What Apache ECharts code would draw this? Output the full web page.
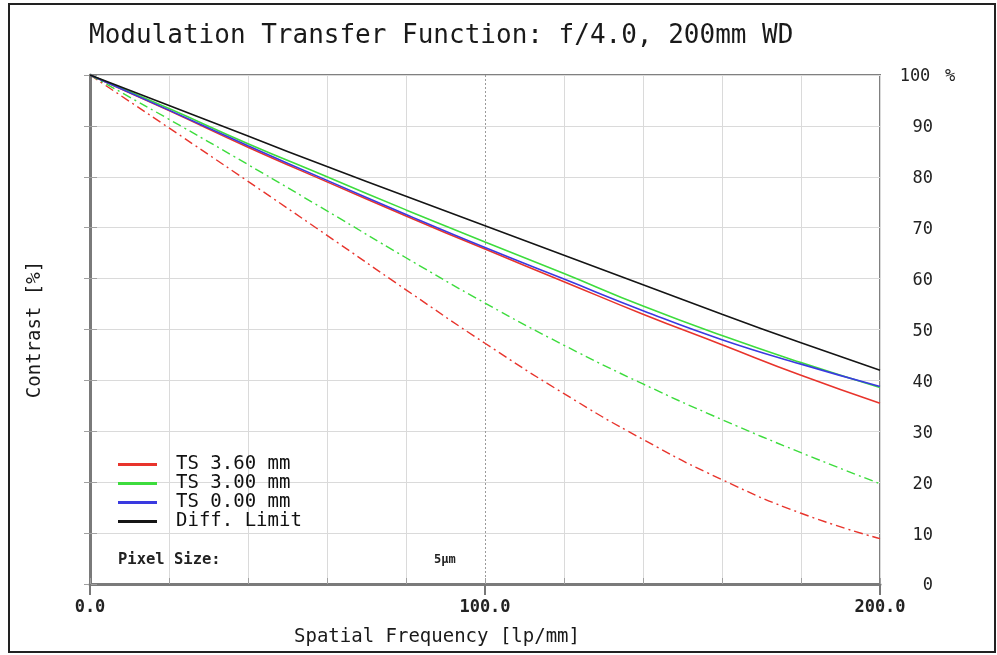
<!DOCTYPE html>
<html>
<head>
<meta charset="utf-8">
<script src="https://cdn.jsdelivr.net/npm/echarts@6/dist/echarts.min.js"></script>
<style>html,body{margin:0;padding:0;background:#fff}#c{width:997px;height:655px}</style>
</head>
<body>
<div id="c"></div>
<script>
const freq = [0, 20, 40, 60, 80, 100, 120, 140, 160, 180, 200];
const ts360Solid = [100, 93.0, 85.8, 79.0, 72.3, 65.8, 59.4, 53.0, 47.0, 41.0, 35.5];
const ts360Dash  = [100, 89.6, 79.1, 68.5, 57.8, 47.3, 37.4, 28.4, 20.5, 13.9, 8.9];
const ts300Solid = [100, 93.4, 86.5, 80.0, 73.5, 67.2, 61.0, 54.6, 48.8, 43.5, 38.6];
const ts300Dash  = [100, 91.3, 82.4, 73.3, 64.1, 55.2, 46.9, 39.3, 32.3, 25.8, 19.7];
const ts000      = [100, 93.1, 86.1, 79.3, 72.6, 66.1, 59.9, 53.7, 48.0, 43.2, 38.8];
const diffLimit  = [100, 94.0, 88.0, 82.0, 76.2, 70.4, 64.6, 58.8, 53.0, 47.4, 42.0];
const xTickLabels = ['0.0', '100.0', '200.0'];
const yTickLabels = [0, 10, 20, 30, 40, 50, 60, 70, 80, 90, 100];

const pairs = arr => freq.map((f, i) => [f, arr[i]]);
const FONT = 'DejaVu Sans Mono';
const RED = '#e8342c', GREEN = '#3ddc3d', BLUE = '#3a3ae0', BLACK = '#151515';
const dashDot = [9, 4, 2, 4];

const chart = echarts.init(document.getElementById('c'));
const splitColors = freq.map(f => f === 100 ? 'rgba(0,0,0,0)' : '#dadada');

chart.setOption({
  animation: false,
  backgroundColor: '#fff',
  title: {
    text: 'Modulation Transfer Function: f/4.0, 200mm WD',
    left: 84, top: 18,
    textStyle: {fontFamily: FONT, fontSize: 26, fontWeight: 'normal', color: '#1a1a1a'}
  },
  graphic: [
    {type: 'rect', shape: {x: 9, y: 4, width: 986, height: 648}, style: {fill: 'none', stroke: '#222', lineWidth: 2}, silent: true, z: 100},
    {type: 'text', left: 118, top: 552, style: {text: 'Pixel Size:', font: 'bold 15.5px "DejaVu Sans Mono"', fill: '#222'}},
    {type: 'text', left: 434, top: 554, style: {text: '5µm', font: 'bold 12px "DejaVu Sans Mono"', fill: '#222'}}
  ],
  legend: {
    orient: 'vertical', left: 113, top: 450, itemGap: 0,
    itemWidth: 39, itemHeight: 3, icon: 'rect',
    textStyle: {fontFamily: FONT, fontSize: 19, color: '#111', padding: [0, 0, 0, 14]},
    data: ['TS 3.60 mm', 'TS 3.00 mm', 'TS 0.00 mm', 'Diff. Limit']
  },
  grid: {left: 90, right: 117, top: 75, bottom: 71, show: true, borderColor: '#808080', borderWidth: 2},
  xAxis: [
    {
      type: 'value', min: 0, max: 200, interval: 20, position: 'bottom',
      axisLine: {show: true, lineStyle: {color: '#7a7a7a', width: 3}},
      axisTick: {show: true, inside: true, length: 6, lineStyle: {color: '#a0a0a0'}},
      axisLabel: {show: false},
      splitLine: {show: true, lineStyle: {color: splitColors, width: 1}}
    },
    {
      type: 'value', min: 0, max: 200, interval: 100, position: 'bottom',
      axisLine: {show: false},
      axisTick: {show: true, inside: false, length: 11, lineStyle: {color: '#777', width: 2}},
      axisLabel: {
        margin: 15, fontFamily: FONT, fontSize: 17, fontWeight: 'bold', color: '#222',
        formatter: v => xTickLabels[Math.round(v / 100)]
      },
      splitLine: {show: true, lineStyle: {color: ['rgba(0,0,0,0)', '#9a9a9a', 'rgba(0,0,0,0)'], type: [2, 2], width: 1}},
      name: 'Spatial Frequency [lp/mm]', nameLocation: 'middle', nameGap: 44,
      nameTextStyle: {fontFamily: FONT, fontSize: 19, color: '#1a1a1a', padding: [0, 96, 0, 0]}
    }
  ],
  yAxis: [
    {
      type: 'value', min: 0, max: 100, interval: 10, position: 'left',
      axisLine: {show: true, lineStyle: {color: '#7a7a7a', width: 3}},
      axisTick: {show: true, inside: true, length: 7, lineStyle: {color: '#a0a0a0'}},
      axisLabel: {show: false},
      splitLine: {show: true, lineStyle: {color: '#dadada', width: 1}},
      name: 'Contrast [%]', nameLocation: 'middle', nameGap: 45, nameRotate: 90,
      nameTextStyle: {fontFamily: FONT, fontSize: 19, color: '#1a1a1a'}
    },
    {
      type: 'value', min: 0, max: 100, interval: 10, position: 'right',
      axisLine: {show: true, lineStyle: {color: '#7a7a7a', width: 2}},
      axisTick: {show: true, inside: true, length: 6, lineStyle: {color: '#a0a0a0'}},
      splitLine: {show: false},
      axisLabel: {
        align: 'left', margin: 17, color: '#222',
        formatter: v => {
          const t = yTickLabels[Math.round(v / 10)];
          return t === 100 ? '{a|' + t + '}{b|%}' : '{a|' + t + '}';
        },
        rich: {
          a: {width: 36, align: 'right', fontFamily: FONT, fontSize: 17, color: '#222', padding: [4, 0, 0, 0]},
          b: {fontFamily: FONT, fontSize: 17, color: '#222', padding: [4, 0, 0, 12]}
        }
      }
    }
  ],
  series: [
    {name: 'TS 3.60 mm', type: 'line', data: pairs(ts360Solid), smooth: true, showSymbol: false, lineStyle: {color: RED, width: 1.6}, itemStyle: {color: RED}},
    {name: 'TS 3.60 mm', type: 'line', data: pairs(ts360Dash), smooth: true, showSymbol: false, lineStyle: {color: RED, width: 1.4, type: dashDot}, itemStyle: {color: RED}},
    {name: 'TS 3.00 mm', type: 'line', data: pairs(ts300Solid), smooth: true, showSymbol: false, lineStyle: {color: GREEN, width: 1.6}, itemStyle: {color: GREEN}},
    {name: 'TS 3.00 mm', type: 'line', data: pairs(ts300Dash), smooth: true, showSymbol: false, lineStyle: {color: GREEN, width: 1.4, type: dashDot}, itemStyle: {color: GREEN}},
    {name: 'TS 0.00 mm', type: 'line', data: pairs(ts000), smooth: true, showSymbol: false, lineStyle: {color: BLUE, width: 1.6}, itemStyle: {color: BLUE}},
    {name: 'Diff. Limit', type: 'line', data: pairs(diffLimit), smooth: true, showSymbol: false, lineStyle: {color: BLACK, width: 1.6}, itemStyle: {color: BLACK}}
  ]
});
</script>
</body>
</html>
